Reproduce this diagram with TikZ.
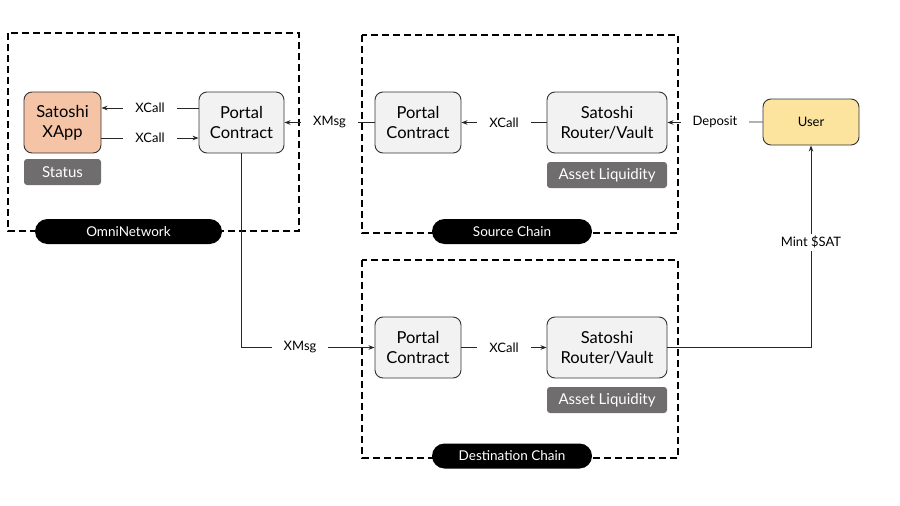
\documentclass[tikz,border=0pt]{standalone}
\usepackage{fontspec}
\setmainfont{Lato}
\usetikzlibrary{arrows.meta,positioning}

\definecolor{peach}{HTML}{F5C4A6}
\definecolor{sand}{HTML}{FCE39E}
\definecolor{tagGray}{HTML}{6F6D6D}
\definecolor{blockFill}{HTML}{F2F2F2}

\tikzset{
  chainbox/.style={draw=black, line width=1.2pt, dash pattern=on 7pt off 4pt},
  block/.style={draw=black!80, line width=0.9pt, rounded corners=8pt, fill=blockFill,
    minimum height=61pt, align=center, inner sep=2pt, font=\fontsize{16.5}{20}\selectfont},
  tagbox/.style={fill=tagGray, text=white, rounded corners=3pt, minimum height=26pt,
    inner sep=2pt, font=\fontsize{15}{17}\selectfont},
  pill/.style={fill=black, text=white, rounded corners=12.5pt, minimum height=25pt,
    inner sep=2pt, font=\fontsize{13.5}{15}\selectfont},
  flow/.style={draw=black!85, line width=0.8pt, -{Stealth[length=6pt,width=4.5pt]}},
  lbl/.style={fill=white, inner xsep=12pt, inner ysep=2pt, font=\fontsize{13}{15}\selectfont}
}

\begin{document}
\begin{tikzpicture}[x=1pt, y=-1pt]
\useasboundingbox (0,0) rectangle (900,506);

% chain frames
\draw[chainbox] (8,33) rectangle (299,231);
\draw[chainbox] (362,35) rectangle (678,233);
\draw[chainbox] (362,260) rectangle (678,458);

\node[pill, minimum width=187pt] (omnitag) at (128.5,231.5) {OmniNetwork};
\node[pill, minimum width=160pt] (srctag) at (512,231.5) {Source Chain};
\node[pill, minimum width=160pt] (dsttag) at (512,456) {Destination Chain};

% omni network
\node[block, fill=peach, minimum width=77pt] (xapp) at (62.5,122.5) {Satoshi\\XApp};
\node[tagbox, minimum width=77pt] (status) at (62.5,172) {Status};
\node[block, minimum width=85pt] (omniportal) at (241.5,122.5) {Portal\\Contract};

% source chain
\node[block, minimum width=86pt] (srcportal) at (418,122.5) {Portal\\Contract};
\node[block, minimum width=120pt] (srcrouter) at (607,122.5) {Satoshi\\Router/Vault};
\node[tagbox, minimum width=120pt] (srcliq) at (607,175) {Asset Liquidity};

% destination chain
\node[block, minimum width=86pt] (dstportal) at (418,347.5) {Portal\\Contract};
\node[block, minimum width=120pt] (dstrouter) at (607,347.5) {Satoshi\\Router/Vault};
\node[tagbox, minimum width=120pt] (dstliq) at (607,400) {Asset Liquidity};

\node[block, fill=sand, minimum width=96pt, minimum height=46pt,
  font=\fontsize{13}{15}\selectfont] (user) at (811,122) {User};

% calls and messages
\draw[flow] ([yshift=14.5pt]omniportal.west) -- node[lbl] {XCall} ([yshift=14.5pt]xapp.east);
\draw[flow] ([yshift=-15.5pt]xapp.east) -- node[lbl] {XCall} ([yshift=-15.5pt]omniportal.west);
\draw[flow] (srcportal.west) -- node[lbl] {XMsg} (omniportal.east);
\draw[flow] (srcrouter.west) -- node[lbl] {XCall} (srcportal.east);
\draw[flow] (user.west) -- node[lbl] {Deposit} (srcrouter.east);
\draw[flow] (omniportal.south) |- node[lbl, pos=0.72] {XMsg} (dstportal.west);
\draw[flow] (dstportal.east) -- node[lbl] {XCall} (dstrouter.west);
\draw[flow] (dstrouter.east) -| node[lbl, pos=0.76] {Mint \$SAT} (user.south);

\end{tikzpicture}
\end{document}
